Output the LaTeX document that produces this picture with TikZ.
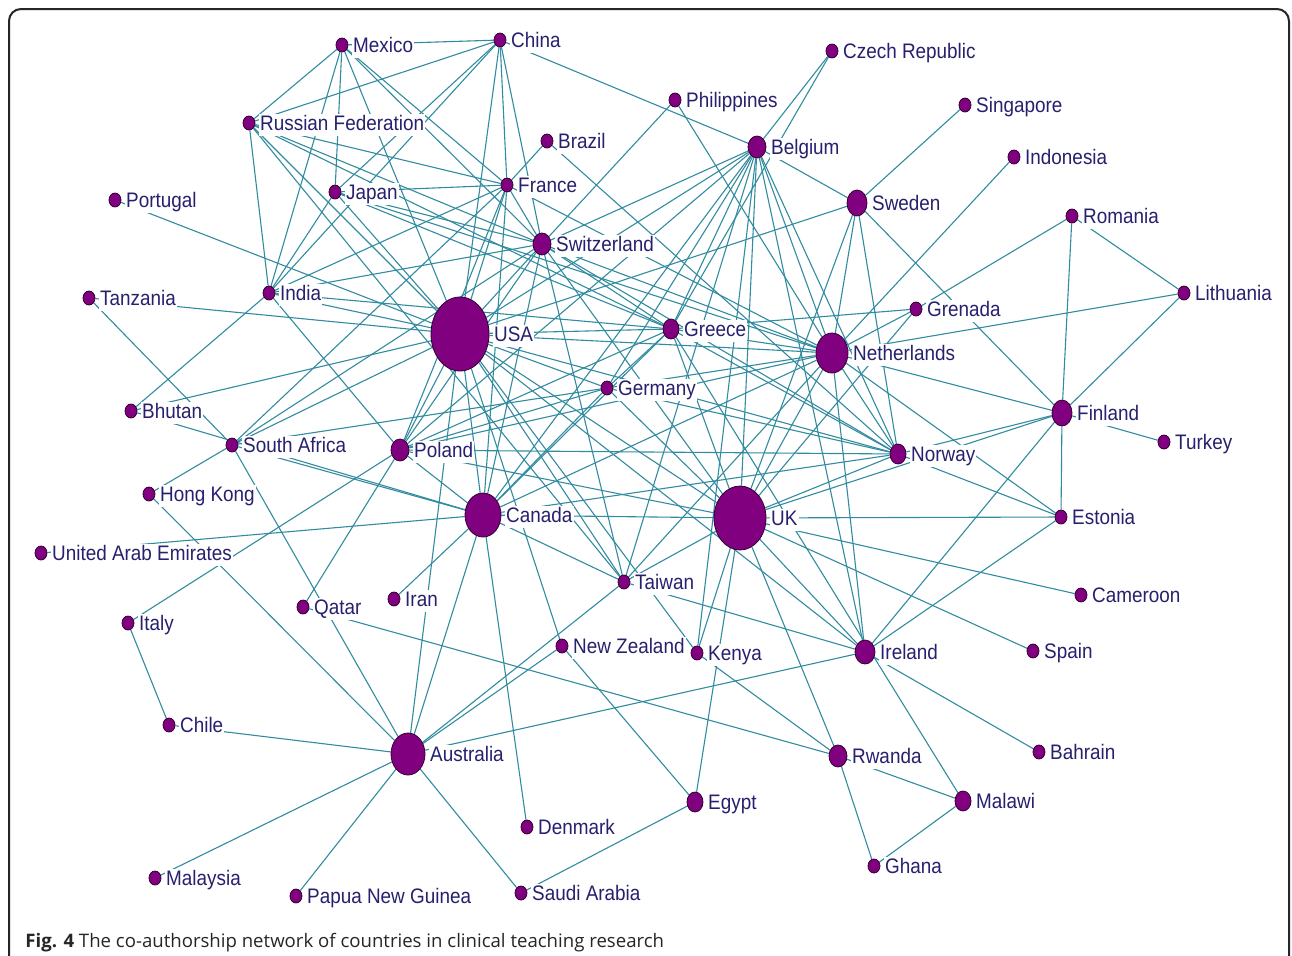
\documentclass[tikz,border=0pt]{standalone}
\usepackage{fontspec}
\setmainfont{Liberation Sans}
\newfontfamily\labfont[FakeStretch=0.9]{Liberation Sans}
\newfontfamily\capfont{Open Sans}
\usetikzlibrary{shapes.geometric}
\pgfdeclarelayer{back}
\pgfdeclarelayer{bg}
\pgfsetlayers{back,bg,main}
\definecolor{edgecol}{RGB}{50,140,160}
\definecolor{dotfill}{RGB}{128,0,128}
\definecolor{dotline}{RGB}{50,0,50}
\definecolor{labcol}{RGB}{38,32,110}
\tikzset{
 dot/.style={ellipse, draw=dotline, fill=dotfill, line width=0.4pt, inner sep=0pt},
 lab/.style={font=\labfont\fontsize{10.5}{12}\selectfont, text=labcol, fill=white, inner sep=0.6pt, text height=7.8pt, text depth=2.2pt, anchor=base west},
 link/.style={draw=edgecol, line width=0.55pt},
 frame/.style={draw=black!85, line width=1pt, rounded corners=6pt},
 captxt/.style={anchor=base west, inner sep=0pt, font=\capfont\fontsize{9.3}{11}\selectfont, text=black!85}
}
\newcommand\cnode[6]{%
 \node[dot, minimum width=#4pt, minimum height=#5pt] (#1) at (#2,#3) {};
 \node[lab] (#1-l) at ([xshift=1.6pt,yshift=-3.8pt]#1.east) {#6};}
\begin{document}
\begin{tikzpicture}[x=0.5pt,y=-0.5pt]
\useasboundingbox (0,0) rectangle (1292,955);
\clip (0,0) rectangle (1292,955);
\begin{pgfonlayer}{back}
\fill[white] (0,0) rectangle (1292,955);
\end{pgfonlayer}
\draw[frame] (9,990) -- (9,9) -- (1289,9) -- (1289,990);
% nodes
\cnode{mex}{342}{45}{6}{7}{Mexico}
\cnode{chn}{500}{40}{6}{7}{China}
\cnode{cze}{832}{51}{6}{7}{Czech Republic}
\cnode{phi}{675}{100}{6}{7}{Philippines}
\cnode{sgp}{965}{105}{6}{7}{Singapore}
\cnode{rus}{249}{123}{6}{7}{Russian Federation}
\cnode{bra}{547}{141}{6}{7}{Brazil}
\cnode{bel}{757}{147}{9}{11}{Belgium}
\cnode{idn}{1014}{157}{6}{7}{Indonesia}
\cnode{fra}{507}{185}{6}{7}{France}
\cnode{jpn}{335}{192}{6}{7}{Japan}
\cnode{prt}{115}{200}{6}{7}{Portugal}
\cnode{swe}{857}{203}{10}{13}{Sweden}
\cnode{rom}{1072}{216}{6}{7}{Romania}
\cnode{che}{542}{244}{9}{11}{Switzerland}
\cnode{tza}{89}{298}{6}{7}{Tanzania}
\cnode{ind}{269}{293}{6}{7}{India}
\cnode{usa}{460}{334}{29}{37}{USA}
\cnode{grd}{916}{309}{6}{7}{Grenada}
\cnode{ltu}{1184}{293}{6}{7}{Lithuania}
\cnode{grc}{671}{329}{8}{10}{Greece}
\cnode{nld}{832}{353}{16}{20}{Netherlands}
\cnode{deu}{607}{388}{6}{7}{Germany}
\cnode{btn}{131}{411}{6}{7}{Bhutan}
\cnode{fin}{1062}{413}{10}{13}{Finland}
\cnode{tur}{1164}{442}{6}{7}{Turkey}
\cnode{zaf}{232}{445}{6}{7}{South Africa}
\cnode{pol}{400}{450}{9}{11}{Poland}
\cnode{nor}{898}{454}{8}{10}{Norway}
\cnode{hkg}{149}{494}{6}{7}{Hong Kong}
\cnode{can}{483}{515}{18}{22}{Canada}
\cnode{gbr}{740}{518}{26}{32}{UK}
\cnode{est}{1061}{517}{6}{7}{Estonia}
\cnode{are}{41}{553}{6}{7}{United Arab Emirates}
\cnode{twn}{624}{582}{6}{7}{Taiwan}
\cnode{qat}{303}{607}{6}{7}{Qatar}
\cnode{irn}{394}{599}{6}{7}{Iran}
\cnode{cmr}{1081}{595}{6}{7}{Cameroon}
\cnode{ita}{128}{623}{6}{7}{Italy}
\cnode{nzl}{562}{646}{6}{7}{New Zealand}
\cnode{ken}{697}{653}{6}{7}{Kenya}
\cnode{irl}{865}{652}{10}{12}{Ireland}
\cnode{esp}{1033}{651}{6}{7}{Spain}
\cnode{chl}{169}{725}{6}{7}{Chile}
\cnode{aus}{408}{754}{17}{21}{Australia}
\cnode{rwa}{838}{756}{9}{11}{Rwanda}
\cnode{bhr}{1039}{752}{6}{7}{Bahrain}
\cnode{egy}{695}{802}{8}{10}{Egypt}
\cnode{mwi}{963}{801}{8}{10}{Malawi}
\cnode{dnk}{527}{827}{6}{7}{Denmark}
\cnode{gha}{874}{866}{6}{7}{Ghana}
\cnode{mys}{155}{878}{6}{7}{Malaysia}
\cnode{png}{296}{896}{6}{7}{Papua New Guinea}
\cnode{sau}{521}{893}{6}{7}{Saudi Arabia}
% caption
\node[captxt] (cap) at (25,947) {\textbf{Fig. 4} The co-authorship network of countries in clinical teaching research};
% edges
\begin{pgfonlayer}{bg}
\foreach \a/\b in {
 mex/chn, mex/rus, mex/ind, mex/jpn, mex/usa, mex/fra, mex/che,
 chn/rus, chn/jpn, chn/ind, chn/usa, chn/fra, chn/che, chn/bel,
 rus/ind, rus/usa, rus/fra, rus/che, rus/grc, rus/twn,
 prt/usa, tza/usa, tza/zaf,
 ind/jpn, ind/usa, ind/che, ind/fra, ind/pol, ind/btn, ind/grc,
 jpn/usa, jpn/fra, jpn/che, jpn/grc, jpn/nld,
 bra/fra, bra/nor, phi/che, phi/nld,
 cze/bel, cze/grc, sgp/swe, idn/nld,
 rom/ltu, rom/grd, rom/fin, ltu/nld, ltu/fin,
 swe/bel, swe/fin, swe/nor, swe/gbr, swe/usa, swe/nld,
 bel/che, bel/usa, bel/grc, bel/deu, bel/can, bel/gbr, bel/nld, bel/nor, bel/irl, bel/twn, bel/pol, bel/ken,
 fra/usa, fra/zaf, fra/che, fra/nld, fra/pol, fra/can,
 che/usa, che/pol, che/can, che/grc, che/nld, che/nor, che/gbr, che/twn, che/zaf,
 usa/btn, usa/zaf, usa/pol, usa/can, usa/aus, usa/gbr, usa/grc, usa/nld, usa/nor, usa/deu, usa/twn, usa/nzl, usa/ken, usa/irl,
 grd/grc, grd/nld, grd/gbr,
 grc/can, grc/deu, grc/pol, grc/nor, grc/gbr, grc/mwi, grc/nld,
 nld/deu, nld/pol, nld/can, nld/gbr, nld/nor, nld/fin, nld/est, nld/irl, nld/twn,
 deu/pol, deu/can, deu/gbr, deu/nor, deu/zaf,
 nor/pol, nor/can, nor/gbr, nor/fin, nor/est,
 fin/gbr, fin/tur, fin/est, fin/irl, est/gbr, est/irl,
 btn/can, zaf/hkg, zaf/aus, zaf/can, hkg/aus, are/can,
 ita/pol, ita/chl, qat/pol, qat/rwa, irn/can,
 pol/can, pol/gbr,
 can/gbr, can/twn, can/aus, can/dnk,
 gbr/cmr, gbr/esp, gbr/irl, gbr/rwa, gbr/ken, gbr/egy, gbr/twn,
 twn/aus, twn/irl, nzl/egy, nzl/aus, ken/rwa, egy/sau,
 aus/chl, aus/mys, aus/png, aus/sau, aus/irl,
 rwa/gha, rwa/mwi, mwi/gha, irl/bhr}
 \draw[link] (\a) -- (\b);
\end{pgfonlayer}
\end{tikzpicture}
\end{document}
